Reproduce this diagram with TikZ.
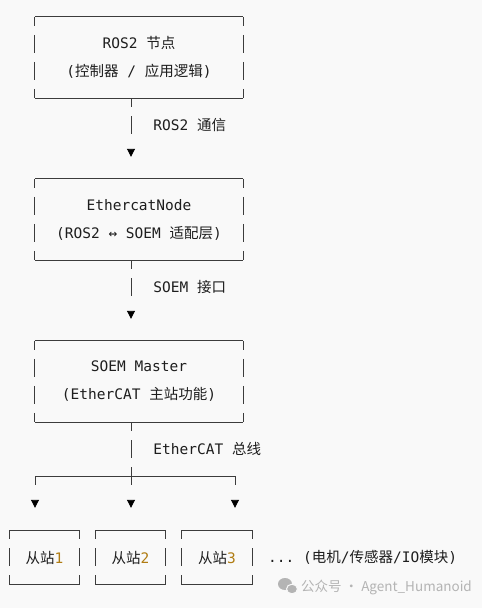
\documentclass[tikz,border=0pt]{standalone}
\usepackage{fontspec}
\setmonofont{DejaVu Sans Mono}
\newfontfamily\cjk{Noto Sans CJK SC}
\usetikzlibrary{arrows.meta,calc}

\definecolor{bgcol}{RGB}{249,249,249}
\definecolor{ink}{RGB}{30,30,30}
\definecolor{rule}{RGB}{60,60,60}
\definecolor{numcol}{RGB}{176,124,18}
\definecolor{wmgray}{RGB}{180,180,180}

\newcommand{\zh}[1]{{\cjk #1}}
% frame of a text-art box: solid top/bottom, broken sides
\newcommand{\asciiframe}[1]{%
  \draw[frameline] (#1.north west) -- (#1.north east);
  \draw[frameline] (#1.south west) -- (#1.south east);
  \draw[frameline, sideline] (#1.north west) -- (#1.south west);
  \draw[frameline, sideline] (#1.north east) -- (#1.south east);
}

\begin{document}
\begin{tikzpicture}[
  x=1pt, y=-1pt,
  font=\ttfamily\fontsize{14.5}{28}\selectfont,
  box/.style       = {inner sep=0pt, text=ink, align=center},
  frameline/.style = {draw=rule, line width=0.9pt},
  sideline/.style  = {dash pattern=on 18pt off 9pt, dash phase=9pt},
  link/.style      = {draw=rule, line width=0.9pt,
                      dash pattern=on 18pt off 9pt on 18pt off 200pt,
                      dash phase=9pt,
                      -{Triangle[width=8pt,length=8pt,color=black]},
                      shorten >=22pt},
  trunk/.style     = {draw=rule, line width=0.9pt,
                      dash pattern=on 18pt off 9pt, dash phase=9pt},
  drop/.style      = {draw=rule, line width=0.9pt,
                      dash pattern=on 9pt off 200pt,
                      -{Triangle[width=8pt,length=8pt,color=black]},
                      shorten >=22.5pt},
  lbl/.style       = {text=ink, anchor=west, inner sep=0pt},
]

% ===== Canvas =====
\fill[bgcol] (0,0) rectangle (482,608);

% ===== Layer boxes =====
\node[box, minimum width=208pt, minimum height=81pt] (ros) at (139,57.5)
      {ROS2 \zh{节点}\\(\zh{控制器} / \zh{应用逻辑})};
\node[box, minimum width=208pt, minimum height=81pt] (ecat) at (139,219.5)
      {EthercatNode\\(ROS2 ↔ SOEM \zh{适配层})};
\node[box, minimum width=208pt, minimum height=81pt] (soem) at (139,381.5)
      {SOEM Master\\(EtherCAT \zh{主站功能})};
\asciiframe{ros}
\asciiframe{ecat}
\asciiframe{soem}

% ===== Slaves =====
\node[box, minimum width=69pt, minimum height=54pt] (s1) at (44.5,557.5)
      {\zh{从站}\textcolor{numcol}{1}};
\node[box, minimum width=69pt, minimum height=54pt] (s2) at (130.5,557.5)
      {\zh{从站}\textcolor{numcol}{2}};
\node[box, minimum width=70pt, minimum height=54pt] (s3) at (217,557.5)
      {\zh{从站}\textcolor{numcol}{3}};
\asciiframe{s1}
\asciiframe{s2}
\asciiframe{s3}
\node[lbl] (more) at (268,557.5)
      {... (\zh{电机}/\zh{传感器}/IO\zh{模块})};

% ===== Vertical spine and bus =====
\coordinate (spine) at (131,0);
\coordinate (bus)   at (131,476);
\coordinate (busL)  at (35,476);
\coordinate (busR)  at (235,476);

\draw[link] (ros.south -| spine) --
   node[lbl, pos=0.333, xshift=22pt] (lblA) {ROS2 \zh{通信}} (ecat.north -| spine);
\draw[link] (ecat.south -| spine) --
   node[lbl, pos=0.333, xshift=22pt] (lblB) {SOEM \zh{接口}} (soem.north -| spine);
\draw[trunk] (soem.south -| spine) --
   node[lbl, pos=0.5, xshift=22pt] (lblC) {EtherCAT \zh{总线}} (bus);

\draw[frameline] (busL) -- (busR);
\draw[drop] (busL) -- (busL |- s1.north);
\draw[drop] (bus)  -- (bus |- s2.north);
\draw[drop] (busR) -- (busR |- s3.north);

% ===== Watermark =====
\fill[wmgray] (285,584) ellipse (7 and 6);
\filldraw[fill=wmgray, draw=bgcol, line width=1pt] (292,589) ellipse (5.5 and 4.8);
\node[anchor=west, text=wmgray, inner sep=0pt,
      font=\cjk\fontsize{13.5}{16}\selectfont] (wm) at (301,587)
      {公众号 · Agent\_Humanoid};

\end{tikzpicture}
\end{document}
